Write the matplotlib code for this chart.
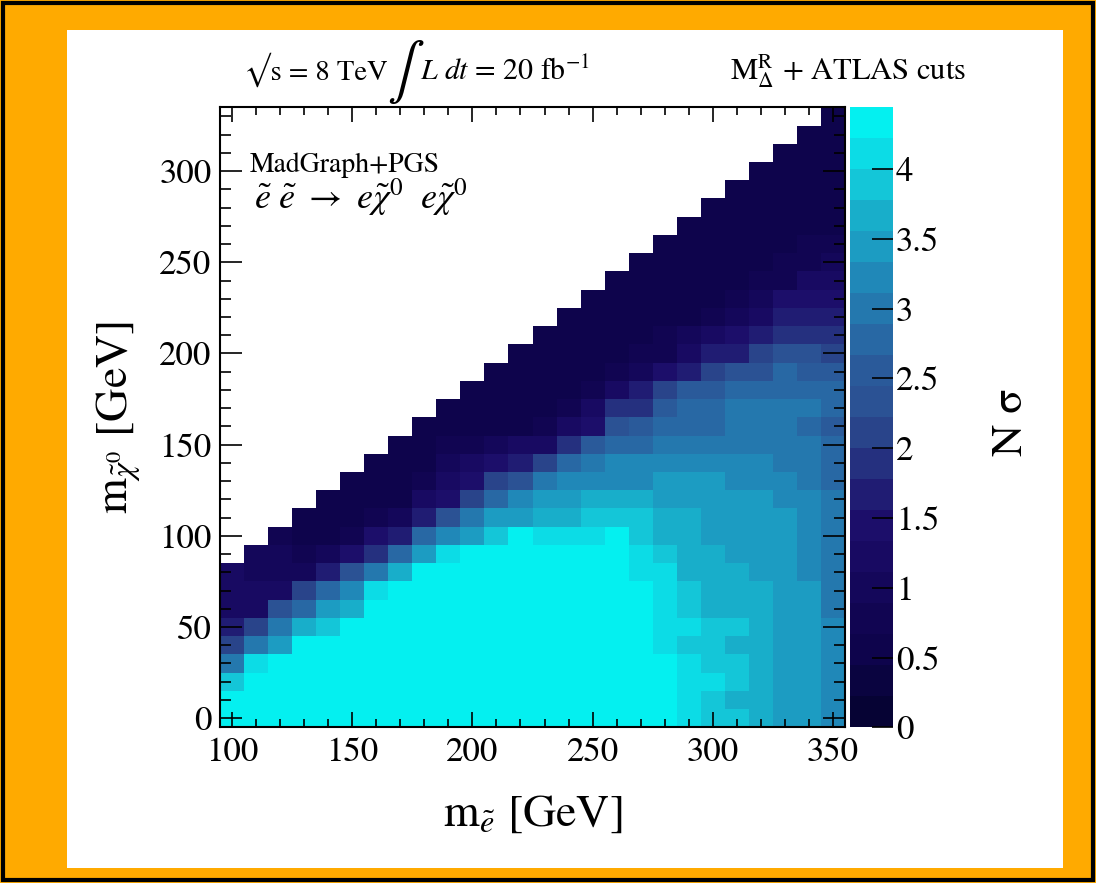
import matplotlib
matplotlib.use("Agg")
import matplotlib.pyplot as plt
import numpy as np
from matplotlib.colors import BoundaryNorm, ListedColormap
from matplotlib.patches import Rectangle
from matplotlib.ticker import MultipleLocator

plt.rcParams["font.family"] = ["STIXGeneral", "DejaVu Serif"]
plt.rcParams["mathtext.fontset"] = "stix"

# selectron masses (GeV), one column each; neutralino masses 0..330 in 10 GeV rows
m_selectron = [100, 110, 120, 130, 140, 150, 160, 170, 180, 190, 200, 210, 220,
               230, 240, 250, 260, 270, 280, 290, 300, 310, 320, 330, 340, 350]
m_chi = list(range(0, 340, 10))

# N sigma per selectron column, from m_chi = 0 upward (m_chi <= m_selectron - 20)
ns_100 = [4.4, 4.4, 3.9, 3.0, 2.1, 1.7, 1.2, 1.2, 1.2]
ns_110 = [4.4, 4.4, 4.4, 4.1, 3.0, 2.1, 1.2, 1.2, 1.0, 1.0]
ns_120 = [4.4, 4.4, 4.4, 4.4, 3.4, 3.0, 2.3, 1.2, 1.0, 1.0, 0.8]
ns_130 = [4.4, 4.4, 4.4, 4.4, 4.4, 3.7, 2.8, 2.1, 1.0, 0.8, 0.6, 0.6]
ns_140 = [4.4, 4.4, 4.4, 4.4, 4.4, 3.9, 3.4, 2.8, 1.7, 1.0, 0.6, 0.6, 0.6]
ns_150 = [4.4, 4.4, 4.4, 4.4, 4.4, 4.4, 3.7, 3.2, 2.3, 1.4, 0.8, 0.6, 0.6, 0.6]
ns_160 = [4.4, 4.4, 4.4, 4.4, 4.4, 4.4, 4.4, 4.1, 3.0, 1.9, 1.4, 0.8, 0.6, 0.6,
          0.6]
ns_170 = [4.4, 4.4, 4.4, 4.4, 4.4, 4.4, 4.4, 4.4, 3.7, 2.8, 1.7, 1.0, 0.6, 0.6,
          0.6, 0.6]
ns_180 = [4.4, 4.4, 4.4, 4.4, 4.4, 4.4, 4.4, 4.4, 4.4, 3.4, 2.8, 1.7, 1.2, 0.8,
          0.6, 0.6, 0.6]
ns_190 = [4.4, 4.4, 4.4, 4.4, 4.4, 4.4, 4.4, 4.4, 4.4, 4.1, 3.2, 2.3, 1.4, 1.2,
          1.0, 0.8, 0.6, 0.6]
ns_200 = [4.4, 4.4, 4.4, 4.4, 4.4, 4.4, 4.4, 4.4, 4.4, 4.4, 3.4, 3.0, 2.1, 1.4,
          1.2, 0.8, 0.6, 0.6, 0.6]
ns_210 = [4.4, 4.4, 4.4, 4.4, 4.4, 4.4, 4.4, 4.4, 4.4, 4.4, 3.9, 3.4, 2.8, 2.1,
          1.4, 1.0, 0.6, 0.6, 0.6, 0.6]
ns_220 = [4.4, 4.4, 4.4, 4.4, 4.4, 4.4, 4.4, 4.4, 4.4, 4.4, 4.4, 3.4, 3.2, 2.3,
          1.7, 1.2, 0.6, 0.6, 0.6, 0.6, 0.6]
ns_230 = [4.4, 4.4, 4.4, 4.4, 4.4, 4.4, 4.4, 4.4, 4.4, 4.4, 4.1, 3.7, 3.4, 3.0,
          2.1, 1.2, 0.8, 0.6, 0.6, 0.6, 0.6, 0.6]
ns_240 = [4.4, 4.4, 4.4, 4.4, 4.4, 4.4, 4.4, 4.4, 4.4, 4.4, 4.1, 3.7, 3.4, 3.2,
          2.8, 1.9, 1.2, 0.8, 0.6, 0.6, 0.6, 0.6, 0.6]
ns_250 = [4.4, 4.4, 4.4, 4.4, 4.4, 4.4, 4.4, 4.4, 4.4, 4.4, 4.1, 3.9, 3.7, 3.2,
          3.0, 2.5, 1.4, 1.2, 0.8, 0.6, 0.6, 0.6, 0.6, 0.6]
ns_260 = [4.4, 4.4, 4.4, 4.4, 4.4, 4.4, 4.4, 4.4, 4.4, 4.4, 4.4, 3.9, 3.7, 3.2,
          3.2, 2.8, 2.3, 1.9, 1.2, 0.8, 0.6, 0.6, 0.6, 0.6, 0.6]
ns_270 = [4.4, 4.4, 4.4, 4.4, 4.4, 4.4, 4.4, 4.4, 4.1, 4.1, 3.9, 3.9, 3.7, 3.2,
          3.2, 2.8, 2.5, 1.9, 1.7, 1.0, 0.8, 0.6, 0.6, 0.6, 0.6, 0.6]
ns_280 = [4.4, 4.4, 4.4, 4.4, 4.1, 4.1, 4.1, 4.1, 4.1, 3.9, 3.7, 3.7, 3.4, 3.4,
          3.2, 3.0, 2.8, 2.5, 2.1, 1.4, 0.8, 0.8, 0.6, 0.6, 0.6, 0.6, 0.6]
ns_290 = [4.1, 4.1, 4.1, 4.1, 3.9, 4.1, 3.9, 3.9, 3.7, 3.7, 3.7, 3.7, 3.4, 3.4,
          3.2, 3.0, 2.8, 2.8, 2.5, 1.7, 1.2, 1.0, 0.6, 0.6, 0.6, 0.6, 0.6, 0.6]
ns_300 = [3.9, 3.9, 4.1, 3.9, 3.9, 3.9, 3.7, 3.7, 3.7, 3.7, 3.4, 3.4, 3.4, 3.4,
          3.2, 3.0, 2.8, 2.8, 2.5, 2.1, 1.7, 1.2, 0.8, 0.6, 0.6, 0.6, 0.6, 0.6,
          0.6]
ns_310 = [3.9, 3.7, 3.9, 3.9, 3.7, 3.9, 3.7, 3.7, 3.7, 3.4, 3.4, 3.4, 3.4, 3.2,
          3.2, 3.0, 3.0, 3.0, 2.8, 2.3, 1.7, 1.4, 1.0, 0.8, 0.6, 0.6, 0.6, 0.6,
          0.6, 0.6]
ns_320 = [3.7, 3.7, 3.7, 3.7, 3.7, 3.7, 3.7, 3.7, 3.4, 3.4, 3.4, 3.4, 3.4, 3.2,
          3.2, 3.0, 3.0, 3.0, 2.8, 2.3, 2.1, 1.7, 1.2, 1.0, 0.8, 0.6, 0.6, 0.6,
          0.6, 0.6, 0.6]
ns_330 = [3.4, 3.4, 3.4, 3.4, 3.4, 3.4, 3.4, 3.4, 3.4, 3.4, 3.4, 3.4, 3.2, 3.2,
          3.0, 3.0, 3.0, 3.0, 2.8, 2.8, 2.3, 1.9, 1.7, 1.4, 0.8, 0.8, 0.6, 0.6,
          0.6, 0.6, 0.6, 0.6]
ns_340 = [3.4, 3.4, 3.4, 3.4, 3.4, 3.4, 3.4, 3.4, 3.2, 3.2, 3.2, 3.2, 3.2, 3.0,
          3.0, 3.0, 2.8, 3.0, 2.8, 2.5, 2.3, 1.9, 1.7, 1.4, 1.2, 0.8, 0.8, 0.6,
          0.6, 0.6, 0.6, 0.6, 0.6]
ns_350 = [3.2, 3.2, 3.2, 3.2, 3.2, 3.2, 3.0, 3.0, 3.0, 3.0, 3.0, 3.0, 3.0, 2.8,
          2.8, 2.8, 2.5, 2.8, 2.8, 2.5, 2.1, 1.9, 1.7, 1.4, 1.2, 1.0, 0.8, 0.6,
          0.6, 0.6, 0.6, 0.6, 0.6, 0.6]

columns = [ns_100, ns_110, ns_120, ns_130, ns_140, ns_150, ns_160, ns_170,
           ns_180, ns_190, ns_200, ns_210, ns_220, ns_230, ns_240, ns_250,
           ns_260, ns_270, ns_280, ns_290, ns_300, ns_310, ns_320, ns_330,
           ns_340, ns_350]

# 20-step palette, dark navy -> cyan (as in the colour scale)
palette = ["#060334", "#0A0440", "#0E044C", "#110552", "#14075A", "#180A62",
           "#1C0E6A", "#201C73", "#25307F", "#29448A", "#2B5294", "#2A5A9A",
           "#2868A4", "#2478AE", "#2088B8", "#1C9CC2", "#18AECA", "#14C6D8",
           "#0CDCE6", "#04F0F0"]
z_max = 4.4426

W, H = 1096, 883

z = np.full((len(m_chi), len(m_selectron)), np.nan)
for i, col in enumerate(columns):
    z[: len(col), i] = col
z = np.ma.masked_invalid(z)

x_edges = np.arange(95, 356, 10)
y_edges = np.arange(-5, 336, 10)

fig = plt.figure(figsize=(W / 100, H / 100), dpi=100, facecolor="#FFAA00")
fig.patches.append(Rectangle((67 / W, 1 - 868 / H), (1063 - 67) / W, (868 - 30) / H,
                             transform=fig.transFigure, facecolor="white",
                             edgecolor="none", zorder=-2))
fig.patches.append(Rectangle((3 / W, 3 / H), (W - 6) / W, (H - 6) / H,
                             transform=fig.transFigure, fill=False,
                             edgecolor="black", lw=3, zorder=-1))

ax = fig.add_axes([220 / W, 1 - 727.3 / H, 625 / W, 620 / H])
cmap = ListedColormap(palette)
cmap.set_over(palette[-1])
norm = BoundaryNorm(np.linspace(0, z_max, 21), cmap.N, clip=True)
mesh = ax.pcolormesh(x_edges, y_edges, z, cmap=cmap, norm=norm)

ax.set_xlim(95, 355)
ax.set_ylim(-5, 335)
ax.xaxis.set_major_locator(MultipleLocator(50))
ax.xaxis.set_minor_locator(MultipleLocator(10))
ax.yaxis.set_major_locator(MultipleLocator(50))
ax.yaxis.set_minor_locator(MultipleLocator(10))
ax.tick_params(which="both", direction="in", top=True, right=True, width=1.2,
               labelsize=25)
ax.tick_params(axis="x", which="major", length=11, pad=7)
ax.tick_params(axis="x", which="minor", length=5.5)
ax.tick_params(axis="y", which="major", length=16, pad=6)
ax.tick_params(axis="y", which="minor", length=8)
for sp in ax.spines.values():
    sp.set_linewidth(1.5)

ax.set_xlabel(r"m$_{\tilde{e}}$ [GeV]", fontsize=33, labelpad=18)
ax.set_ylabel(r"m$_{\tilde{\chi}^{0}}$ [GeV]", fontsize=33, labelpad=12)

ax.text(0.048, 0.896, "MadGraph+PGS", transform=ax.transAxes, fontsize=20,
        va="baseline")
ax.text(0.055, 0.836,
        r"$\tilde{e}\ \tilde{e}\ \rightarrow\ e\tilde{\chi}^{0}\ \ e\tilde{\chi}^{0}$",
        transform=ax.transAxes, fontsize=26, va="baseline")

cax = fig.add_axes([850 / W, 1 - 727.3 / H, 43 / W, 620 / H])
cb = fig.colorbar(mesh, cax=cax, ticks=np.arange(0, 4.01, 0.5))
cb.outline.set_visible(False)
cb.ax.set_yticklabels(["0", "0.5", "1", "1.5", "2", "2.5", "3", "3.5", "4"])
cb.ax.tick_params(direction="in", length=15, width=1.2, labelsize=25, pad=2)
cb.ax.minorticks_off()
fig.text(1012 / W, 1 - 422 / H, "N \u03c3", rotation=90, fontsize=32,
         ha="center", va="center")

# header line
fig.text(244 / W, 1 - 80 / H, "\u221as = 8 TeV", fontsize=20.5, va="baseline")
fig.text(400 / W, 1 - 72 / H, "\u222b", fontsize=40, ha="center", va="center")
fig.text(420 / W, 1 - 80 / H, r"$L\ dt$ = 20 fb$^{-1}$", fontsize=21.5,
         va="baseline")
fig.text(730 / W, 1 - 80 / H, r"M$^{\rm R}_{\Delta}$ + ATLAS cuts", fontsize=22,
         va="baseline")

fig.savefig("out.png", dpi=100, facecolor=fig.get_facecolor())
